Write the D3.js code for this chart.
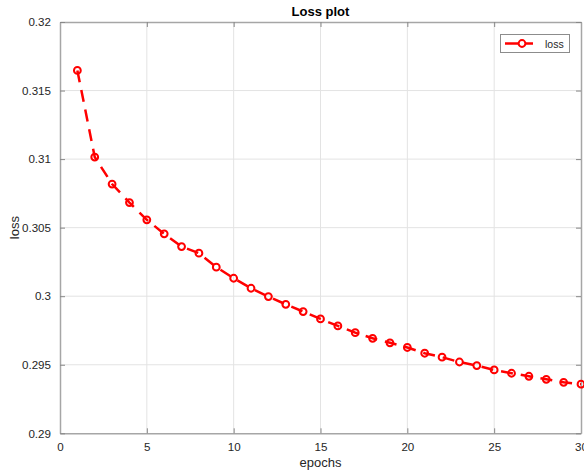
<!DOCTYPE html>
<html>
<head>
<meta charset="utf-8">
<script src="https://cdn.jsdelivr.net/npm/d3@7"></script>
<style>
  html, body { margin: 0; padding: 0; background: #fff; }
  svg { display: block; }
  text { font-family: "Liberation Sans", Arial, Helvetica, sans-serif; }
</style>
</head>
<body>
<svg id="chart" width="584" height="472"></svg>
<script>
const epochs = d3.range(1, 31);
const lossValues = [
  0.31647, 0.31015, 0.30818, 0.30683, 0.30557, 0.30455, 0.30362, 0.30314, 0.30212, 0.30131,
  0.30058, 0.29997, 0.29941, 0.29888, 0.29834, 0.29783, 0.29734, 0.29693, 0.29660, 0.29626,
  0.29584, 0.29555, 0.29520, 0.29494, 0.29462, 0.29438, 0.29416, 0.29394, 0.29372, 0.29358
];
const xTicks = [0, 5, 10, 15, 20, 25, 30];
const yTicks = [0.29, 0.295, 0.3, 0.305, 0.31, 0.315, 0.32];
const yTickLabels = ["0.29", "0.295", "0.3", "0.305", "0.31", "0.315", "0.32"];
const titleText = "Loss plot";
const xLabelText = "epochs";
const yLabelText = "loss";
const legendText = "loss";

const svg = d3.select("#chart");
const L = 60, R = 581, T = 22, B = 433.3;
const x = d3.scaleLinear().domain([0, 30]).range([L, R]);
const y = d3.scaleLinear().domain([0.29, 0.32]).range([B, T]);

const axisColor = "#a6a6a6";
const textColor = "#262626";

// grid
const g = svg.append("g");
g.selectAll(".gx").data(xTicks.slice(1, -1)).enter().append("line")
  .attr("x1", d => x(d)).attr("x2", d => x(d)).attr("y1", T).attr("y2", B)
  .attr("stroke", "#e3e3e3").attr("stroke-width", 1);
g.selectAll(".gy").data(yTicks.slice(1, -1)).enter().append("line")
  .attr("y1", d => y(d)).attr("y2", d => y(d)).attr("x1", L).attr("x2", R)
  .attr("stroke", "#e3e3e3").attr("stroke-width", 1);

// axes (inner ticks, box)
const fmt = (d) => yTickLabels[yTicks.indexOf(d)];
const axB = d3.axisBottom(x).tickValues(xTicks).tickSizeInner(-5).tickSizeOuter(0).tickPadding(9);
const axT = d3.axisTop(x).tickValues(xTicks).tickSizeInner(-5).tickSizeOuter(0).tickFormat("");
const axLft = d3.axisLeft(y).tickValues(yTicks).tickSizeInner(-5).tickSizeOuter(0).tickPadding(9).tickFormat(fmt);
const axRt = d3.axisRight(y).tickValues(yTicks).tickSizeInner(-5).tickSizeOuter(0).tickFormat("");

function style(sel) {
  sel.select(".domain").attr("stroke", axisColor).attr("stroke-width", 1.5);
  sel.selectAll(".tick line").attr("stroke", "#888").attr("stroke-width", 1);
  sel.selectAll(".tick text").attr("fill", textColor).attr("font-size", "11.6px")
    .attr("font-family", "'Liberation Sans', Arial, sans-serif");
}
style(svg.append("g").attr("transform", `translate(0,${B})`).call(axB));
style(svg.append("g").attr("transform", `translate(0,${T})`).call(axT));
style(svg.append("g").attr("transform", `translate(${L},0)`).call(axLft));
style(svg.append("g").attr("transform", `translate(${R},0)`).call(axRt));

// data line
const data = epochs.map((e, i) => ({ e, v: lossValues[i] }));
const line = d3.line().x(d => x(d.e)).y(d => y(d.v));
svg.append("path").datum(data).attr("d", line)
  .attr("fill", "none").attr("stroke", "#ff0000").attr("stroke-width", 2.5)
  .attr("stroke-dasharray", "12,8");
svg.selectAll(".pt").data(data).enter().append("circle")
  .attr("cx", d => x(d.e)).attr("cy", d => y(d.v)).attr("r", 3.4)
  .attr("fill", "none").attr("stroke", "#ff0000").attr("stroke-width", 2);

// title and labels
svg.append("text").attr("x", (L + R) / 2).attr("y", 16).attr("text-anchor", "middle")
  .attr("font-size", "13px").attr("font-weight", "bold").attr("fill", "#000").text(titleText);
svg.append("text").attr("x", (L + R) / 2).attr("y", 467).attr("text-anchor", "middle")
  .attr("font-size", "13px").attr("fill", textColor).text(xLabelText);
svg.append("text").attr("transform", `translate(19,${(T + B) / 2}) rotate(-90)`)
  .attr("text-anchor", "middle").attr("font-size", "13px").attr("fill", textColor).text(yLabelText);

// legend
const lg = svg.append("g");
lg.append("rect").attr("x", 500.5).attr("y", 34.5).attr("width", 69).attr("height", 18)
  .attr("fill", "#fff").attr("stroke", "#8c8c8c").attr("stroke-width", 1);
lg.append("line").attr("x1", 505).attr("x2", 533).attr("y1", 43.5).attr("y2", 43.5)
  .attr("stroke", "#ff0000").attr("stroke-width", 2.5);
lg.append("circle").attr("cx", 522).attr("cy", 43.5).attr("r", 3.4)
  .attr("fill", "#fff").attr("stroke", "#ff0000").attr("stroke-width", 2);
lg.append("text").attr("x", 545).attr("y", 47.5).attr("font-size", "10.5px")
  .attr("fill", textColor).text(legendText);
</script>
</body>
</html>
